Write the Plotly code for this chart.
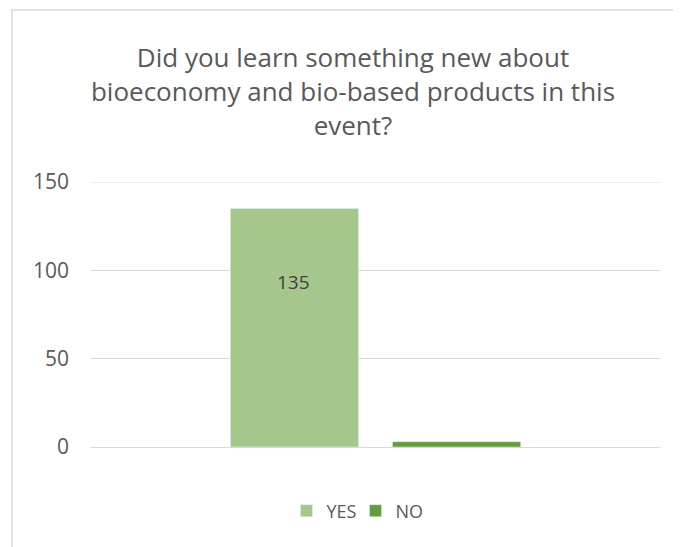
import plotly.graph_objects as go

categories = ["Q1"]
series_names = ["YES", "NO"]
yes_values = [135]
no_values = [3]
yes_labels = ["135"]
tick_values = [0, 50, 100, 150]
title_text = "Did you learn something new about<br>bioeconomy and bio-based products in this<br>event?"

# page body has an 8px margin, so the figure is placed 8px in from the window edge
W, H = 673, 539
ml, mr, mt, mb = 83, 21, 174, 100

fig = go.Figure()
fig.add_trace(go.Bar(name=series_names[0], x=categories, y=yes_values,
                     marker_color="#A5C78C"))
fig.add_trace(go.Bar(name=series_names[1], x=categories, y=no_values,
                     marker_color="#639C3C"))

pw = W - ml - mr
ph = H - mt - mb
fig.add_shape(type="rect", xref="paper", yref="paper",
              x0=(4 - ml) / pw, x1=2, y0=-1, y1=(H - mb - 2) / ph,
              line=dict(color="#D9D9D9", width=1.5), fillcolor="rgba(0,0,0,0)", layer="below")
# top gridline (plotly hides gridlines lying on the plot edge)
fig.add_shape(type="line", xref="paper", yref="y", x0=0, x1=1,
              y0=tick_values[-1], y1=tick_values[-1],
              line=dict(color="#D9D9D9", width=1), layer="below")

# data label for YES bar
fig.add_annotation(x=categories[0], y=yes_values[0] * 0.69, text=yes_labels[0],
                   showarrow=False, xshift=-82, yanchor="middle",
                   font=dict(color="#404040", size=19))

fig.update_layout(
    width=W, height=H,
    margin=dict(l=ml, r=mr, t=mt, b=mb),
    paper_bgcolor="white", plot_bgcolor="white",
    font=dict(family="Open Sans", color="#595959"),
    title=dict(text=title_text, x=(353 - 8) / W, xanchor="center", y=1 - 59 / H,
               yanchor="middle", font=dict(size=26, color="#595959")),
    barmode="group", bargap=0.43, bargroupgap=0.21,
    showlegend=True,
    legend=dict(orientation="h", x=0.5 - 20 / pw, xanchor="center", y=(H - mb - 503) / ph,
                yanchor="middle", itemwidth=30, entrywidth=24,
                font=dict(size=18, color="#595959")),
    yaxis=dict(range=[0, 150], tickvals=tick_values, showgrid=True,
               gridcolor="#D9D9D9", gridwidth=1, zeroline=False,
               tickfont=dict(size=21, color="#595959"), ticks="", ticklabelstandoff=21),
    xaxis=dict(showticklabels=False, showline=True, linecolor="#D9D9D9", ticks=""),
)
fig.write_html("out.html")
